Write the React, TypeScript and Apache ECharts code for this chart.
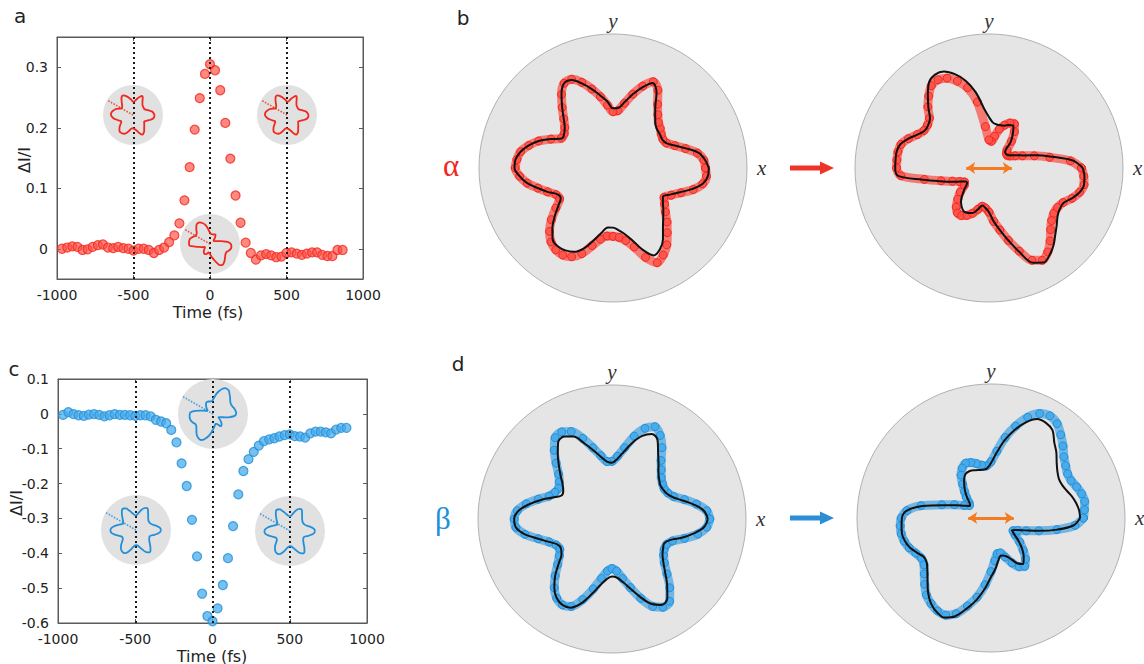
import React, { useEffect, useRef } from 'react';
import * as echarts from 'echarts';

// ---------- time-resolved data (panels a, c) ----------
const TIMES = [-967, -933, -900, -867, -833, -800, -767, -733, -700, -667, -633, -600, -567, -533, -500,
  -467, -433, -400, -367, -333, -300, -267, -233, -200, -167, -133, -100, -67, -33, 0,
  33, 67, 100, 133, 167, 200, 233, 267, 300, 333, 367, 400, 433, 467, 500, 533, 567, 600, 633,
  667, 700, 733, 767, 800, 833, 867];
const DI_ALPHA = [0.000, 0.002, 0.004, 0.003, -0.002, -0.001, 0.003, 0.006, 0.007, 0.002, 0.001, 0.003,
  0.001, 0.000, -0.003, 0.000, 0.000, -0.002, -0.007, -0.002, 0.002, 0.011, 0.022, 0.042, 0.080, 0.135,
  0.197, 0.249, 0.289, 0.305,
  0.295, 0.262, 0.208, 0.149, 0.088, 0.043, 0.010, -0.007, -0.018, -0.011, -0.009, -0.011, -0.014,
  -0.013, -0.007, -0.006, -0.008, -0.010, -0.008, -0.006, -0.006, -0.010, -0.012, -0.012, -0.002, -0.002];
const DI_BETA = [-0.003, 0.005, -0.001, -0.004, -0.006, -0.002, -0.001, -0.003, -0.007, -0.004, -0.001,
  -0.003, -0.003, -0.004, -0.006, -0.004, -0.004, -0.007, -0.017, -0.022, -0.027, -0.046, -0.082, -0.142,
  -0.207, -0.304, -0.409, -0.516, -0.580, -0.595,
  -0.558, -0.491, -0.414, -0.322, -0.231, -0.164, -0.130, -0.109, -0.091, -0.078, -0.073, -0.070, -0.065,
  -0.061, -0.059, -0.064, -0.065, -0.068, -0.056, -0.051, -0.051, -0.053, -0.056, -0.045, -0.040, -0.040];
const X_TICKS = [-1000, -500, 0, 500, 1000];
const A_Y_TICKS = [0, 0.1, 0.2, 0.3];
const C_Y_TICKS = [0.1, 0, -0.1, -0.2, -0.3, -0.4, -0.5, -0.6];
const MARKER_TIMES = [-500, 0, 500];

// ---------- polar patterns (radius vs angle in degrees) ----------
const ANGLES = [0, 5, 10, 15, 20, 25, 30, 35, 40, 45, 50, 55,
  60, 65, 70, 75, 80, 85, 90, 95, 100, 105, 110, 115,
  120, 125, 130, 135, 140, 145, 150, 155, 160, 165, 170, 175,
  180, 185, 190, 195, 200, 205, 210, 215, 220, 225, 230, 235,
  240, 245, 250, 255, 260, 265, 270, 275, 280, 285, 290, 295,
  300, 305, 310, 315, 320, 325, 330, 335, 340, 345, 350, 355];

const ALPHA_BEFORE_FIT = [0.715, 0.69, 0.65, 0.565, 0.49, 0.44, 0.425, 0.43, 0.435, 0.45, 0.49, 0.55,
  0.65, 0.70, 0.64, 0.57, 0.50, 0.45, 0.445, 0.50, 0.55, 0.61, 0.67, 0.725,
  0.73, 0.67, 0.59, 0.52, 0.47, 0.445, 0.44, 0.51, 0.59, 0.65, 0.70, 0.73,
  0.735, 0.70, 0.65, 0.58, 0.52, 0.46, 0.45, 0.50, 0.57, 0.64, 0.70, 0.715,
  0.71, 0.69, 0.64, 0.56, 0.49, 0.445, 0.445, 0.465, 0.50, 0.56, 0.65, 0.72,
  0.70, 0.65, 0.58, 0.53, 0.49, 0.455, 0.43, 0.47, 0.53, 0.61, 0.68, 0.71];
const ALPHA_BEFORE_DATA = [0.69, 0.68, 0.64, 0.56, 0.49, 0.44, 0.43, 0.44, 0.46, 0.48, 0.52, 0.58,
  0.67, 0.71, 0.65, 0.57, 0.49, 0.43, 0.42, 0.47, 0.54, 0.61, 0.68, 0.73,
  0.73, 0.67, 0.59, 0.52, 0.47, 0.445, 0.445, 0.51, 0.59, 0.65, 0.70, 0.72,
  0.73, 0.70, 0.65, 0.58, 0.52, 0.47, 0.46, 0.52, 0.60, 0.67, 0.72, 0.745,
  0.75, 0.73, 0.68, 0.60, 0.54, 0.51, 0.51, 0.52, 0.55, 0.61, 0.71, 0.78,
  0.75, 0.70, 0.63, 0.57, 0.51, 0.47, 0.44, 0.48, 0.54, 0.62, 0.68, 0.70];
const ALPHA_AFTER_FIT = [0.70, 0.63, 0.48, 0.37, 0.275, 0.225, 0.19, 0.17, 0.165, 0.17, 0.25, 0.31,
  0.365, 0.355, 0.336, 0.33, 0.33, 0.34, 0.38, 0.45, 0.575, 0.675, 0.745, 0.795,
  0.805, 0.78, 0.71, 0.64, 0.575, 0.555, 0.555, 0.59, 0.64, 0.685, 0.70, 0.70,
  0.70, 0.68, 0.50, 0.38, 0.30, 0.24, 0.20, 0.20, 0.235, 0.28, 0.325, 0.355,
  0.375, 0.37, 0.357, 0.32, 0.285, 0.30, 0.33, 0.40, 0.47, 0.56, 0.67, 0.78,
  0.815, 0.79, 0.75, 0.70, 0.66, 0.625, 0.61, 0.615, 0.66, 0.70, 0.72, 0.715];
const ALPHA_AFTER_DATA = [0.69, 0.61, 0.46, 0.35, 0.265, 0.215, 0.18, 0.165, 0.17, 0.19, 0.26, 0.33,
  0.38, 0.37, 0.34, 0.30, 0.24, 0.20, 0.21, 0.31, 0.50, 0.62, 0.69, 0.74,
  0.76, 0.75, 0.70, 0.645, 0.58, 0.56, 0.56, 0.59, 0.64, 0.68, 0.69, 0.69,
  0.69, 0.66, 0.49, 0.37, 0.29, 0.24, 0.21, 0.225, 0.28, 0.33, 0.38, 0.41,
  0.41, 0.39, 0.36, 0.32, 0.29, 0.30, 0.33, 0.40, 0.47, 0.56, 0.66, 0.76,
  0.795, 0.765, 0.71, 0.65, 0.61, 0.59, 0.59, 0.61, 0.66, 0.70, 0.72, 0.71];
const BETA_BEFORE_FIT = [0.715, 0.69, 0.62, 0.54, 0.48, 0.45, 0.44, 0.44, 0.46, 0.49, 0.54, 0.60,
  0.68, 0.70, 0.66, 0.59, 0.51, 0.45, 0.42, 0.43, 0.47, 0.53, 0.60, 0.68,
  0.71, 0.70, 0.63, 0.56, 0.50, 0.45, 0.42, 0.415, 0.47, 0.55, 0.63, 0.70,
  0.73, 0.72, 0.66, 0.57, 0.50, 0.45, 0.44, 0.46, 0.52, 0.60, 0.67, 0.72,
  0.74, 0.73, 0.67, 0.58, 0.50, 0.45, 0.43, 0.44, 0.48, 0.54, 0.62, 0.70,
  0.74, 0.72, 0.64, 0.56, 0.50, 0.46, 0.44, 0.43, 0.46, 0.54, 0.62, 0.69];
const BETA_BEFORE_DATA = [0.73, 0.71, 0.64, 0.56, 0.49, 0.46, 0.45, 0.46, 0.48, 0.52, 0.57, 0.65,
  0.72, 0.76, 0.72, 0.64, 0.54, 0.47, 0.43, 0.43, 0.48, 0.55, 0.64, 0.72,
  0.75, 0.74, 0.67, 0.59, 0.52, 0.48, 0.46, 0.47, 0.50, 0.57, 0.65, 0.71,
  0.73, 0.72, 0.66, 0.57, 0.50, 0.46, 0.45, 0.48, 0.53, 0.60, 0.67, 0.72,
  0.74, 0.72, 0.64, 0.54, 0.45, 0.39, 0.37, 0.39, 0.45, 0.53, 0.63, 0.72,
  0.76, 0.75, 0.67, 0.58, 0.51, 0.47, 0.45, 0.45, 0.48, 0.56, 0.65, 0.71];
const BETA_AFTER_FIT = [0.665, 0.66, 0.645, 0.625, 0.60, 0.585, 0.585, 0.605, 0.64, 0.69, 0.735, 0.80,
  0.82, 0.815, 0.76, 0.68, 0.59, 0.49, 0.41, 0.37, 0.365, 0.37, 0.38, 0.385,
  0.38, 0.35, 0.31, 0.27, 0.23, 0.195, 0.18, 0.215, 0.28, 0.37, 0.52, 0.63,
  0.665, 0.67, 0.675, 0.665, 0.645, 0.61, 0.58, 0.585, 0.62, 0.67, 0.73, 0.78,
  0.81, 0.82, 0.78, 0.70, 0.62, 0.53, 0.44, 0.38, 0.32, 0.29, 0.30, 0.33,
  0.39, 0.42, 0.38, 0.33, 0.27, 0.21, 0.18, 0.21, 0.27, 0.37, 0.50, 0.62];
const BETA_AFTER_DATA = [0.69, 0.70, 0.71, 0.70, 0.68, 0.66, 0.66, 0.68, 0.71, 0.76, 0.81, 0.86,
  0.88, 0.86, 0.80, 0.71, 0.61, 0.50, 0.42, 0.39, 0.40, 0.42, 0.44, 0.45,
  0.43, 0.39, 0.33, 0.28, 0.24, 0.20, 0.185, 0.22, 0.29, 0.38, 0.53, 0.63,
  0.67, 0.68, 0.68, 0.67, 0.65, 0.62, 0.60, 0.61, 0.65, 0.70, 0.75, 0.78,
  0.80, 0.80, 0.76, 0.68, 0.60, 0.50, 0.40, 0.32, 0.27, 0.27, 0.31, 0.37,
  0.42, 0.44, 0.40, 0.34, 0.28, 0.22, 0.19, 0.22, 0.28, 0.37, 0.50, 0.63];

const POL_ANGLE = 150; // excitation polarization drawn in the insets
const PUMP_HALF = 0.17; // half length of the orange pump arrow (radius units)

// ---------- styling ----------
const SANS = 'DejaVu Sans';
const SERIF = 'Liberation Serif';
const RED = '#f0281e';
const RED_FILL = 'rgba(255,80,70,0.85)';
const RED_BAND = 'rgba(255,50,40,0.6)';
const BLUE = '#2290d8';
const BLUE_FILL = 'rgba(70,170,235,0.92)';
const BLUE_BAND = 'rgba(40,150,225,0.6)';
const ORANGE = '#f47b20';
const AXIS = '#5a5a5a';

function loop(radii: number[]) {
  const pts = radii.map((r, i) => [r, ANGLES[i]]);
  pts.push([radii[0], 360]);
  return pts;
}

const BIG = [
  { center: [613, 168], data: ALPHA_BEFORE_DATA, fit: ALPHA_BEFORE_FIT, color: RED, fill: RED_FILL, band: RED_BAND, pump: false },
  { center: [989, 168], data: ALPHA_AFTER_DATA, fit: ALPHA_AFTER_FIT, color: RED, fill: RED_FILL, band: RED_BAND, pump: true },
  { center: [612, 519], data: BETA_BEFORE_DATA, fit: BETA_BEFORE_FIT, color: BLUE, fill: BLUE_FILL, band: BLUE_BAND, pump: false },
  { center: [991, 518], data: BETA_AFTER_DATA, fit: BETA_AFTER_FIT, color: BLUE, fill: BLUE_FILL, band: BLUE_BAND, pump: true },
];
const BIG_R = 134;

const INSETS = [
  { center: [133, 115], r: 30, shape: ALPHA_BEFORE_FIT, color: RED },
  { center: [287, 115], r: 30, shape: ALPHA_BEFORE_FIT, color: RED },
  { center: [210, 244], r: 30, shape: ALPHA_AFTER_FIT, color: RED },
  { center: [136, 530], r: 35, shape: BETA_BEFORE_FIT, color: BLUE },
  { center: [290, 531], r: 35, shape: BETA_BEFORE_FIT, color: BLUE },
  { center: [213, 414], r: 35, shape: BETA_AFTER_FIT, color: BLUE },
];

function fmt(v: number) {
  if (Math.abs(v) < 1e-9) return '0';
  return (Math.round(v * 10) / 10).toFixed(1);
}

function buildOption(): any {
  const polar: any[] = [];
  const angleAxis: any[] = [];
  const radiusAxis: any[] = [];
  const series: any[] = [];

  // cartesian panels
  const grids = [
    { left: 57, top: 37, width: 306, height: 242, show: true, borderColor: AXIS, borderWidth: 1 },
    { left: 58, top: 379, width: 309, height: 244, show: true, borderColor: AXIS, borderWidth: 1 },
  ];
  const xAxis: any[] = [];
  const yAxis: any[] = [];
  const yDefs = [
    { min: -0.05, max: 0.35, ticks: A_Y_TICKS },
    { min: -0.6, max: 0.1, ticks: C_Y_TICKS },
  ];
  [0, 1].forEach((g) => {
    ['bottom', 'top'].forEach((pos) => {
      xAxis.push({
        gridIndex: g, type: 'value', position: pos, min: -1000, max: 1000, interval: 500,
        axisLine: { show: true, onZero: false, lineStyle: { color: AXIS } },
        axisTick: { show: true, inside: true, length: 4, lineStyle: { color: AXIS }, customValues: X_TICKS },
        axisLabel: pos === 'bottom'
          ? { show: true, margin: 9, fontSize: 14, fontFamily: SANS, color: '#222', customValues: X_TICKS, formatter: (v: number) => String(Math.round(v)) }
          : { show: false },
        splitLine: { show: false },
      });
    });
    ['left', 'right'].forEach((pos) => {
      yAxis.push({
        gridIndex: g, type: 'value', position: pos, min: yDefs[g].min, max: yDefs[g].max,
        axisLine: { show: true, onZero: false, lineStyle: { color: AXIS } },
        axisTick: { show: true, inside: true, length: 4, lineStyle: { color: AXIS }, customValues: yDefs[g].ticks },
        axisLabel: pos === 'left'
          ? { show: true, margin: 9, fontSize: 14, fontFamily: SANS, color: '#222', customValues: yDefs[g].ticks, formatter: fmt }
          : { show: false },
        splitLine: { show: false },
      });
    });
  });

  const markers = {
    silent: true, symbol: 'none', label: { show: false },
    lineStyle: { color: '#1a1a1a', type: [2, 3], width: 2 },
    data: MARKER_TIMES.map((t) => ({ xAxis: t })),
  };
  series.push({
    type: 'scatter', xAxisIndex: 0, yAxisIndex: 0, z: 2,
    data: TIMES.map((t, i) => [t, DI_ALPHA[i]]),
    symbolSize: 9,
    itemStyle: { color: RED_FILL, borderColor: RED, borderWidth: 1.2 },
    markLine: markers,
  });
  series.push({
    type: 'scatter', xAxisIndex: 2, yAxisIndex: 2, z: 2,
    data: TIMES.map((t, i) => [t, DI_BETA[i]]),
    symbolSize: 9,
    itemStyle: { color: BLUE_FILL, borderColor: BLUE, borderWidth: 1.2 },
    markLine: markers,
  });

  // big polar plots
  BIG.forEach((b, i) => {
    polar.push({ center: b.center, radius: BIG_R });
    angleAxis.push({
      polarIndex: i, type: 'value', min: 0, max: 360, interval: 90, startAngle: 0, clockwise: false, z: 0,
      axisLine: { show: true, lineStyle: { color: '#b0b0b0', width: 1 } },
      axisTick: { show: false },
      axisLabel: {
        show: true, margin: 3,
        formatter: (v: number) => (v === 0 ? '{x|x}' : v === 90 ? '{y|y}' : ''),
        rich: {
          x: { fontFamily: SERIF, fontStyle: 'italic', fontSize: 21, color: '#333', padding: [0, 0, 0, 7] },
          y: { fontFamily: SERIF, fontStyle: 'italic', fontSize: 21, color: '#333' },
        },
      },
      splitLine: { show: true, lineStyle: { color: '#a3a3a3', type: [5, 4], width: 1 } },
      splitArea: { show: true, areaStyle: { color: ['#e5e5e5'] } },
    });
    radiusAxis.push({
      polarIndex: i, type: 'value', min: 0, max: 1,
      axisLine: { show: false }, axisTick: { show: false }, axisLabel: { show: false }, splitLine: { show: false },
    });
    series.push({
      type: 'line', coordinateSystem: 'polar', polarIndex: i, smooth: 0.3, z: 3,
      data: loop(b.data),
      symbol: 'circle', symbolSize: 8, showSymbol: true,
      itemStyle: { color: b.fill, borderColor: b.color, borderWidth: 1 },
      lineStyle: { color: b.band, width: 9 },
    });
    const fitSeries: any = {
      type: 'line', coordinateSystem: 'polar', polarIndex: i, smooth: 0.35, z: 4,
      data: loop(b.fit), symbol: 'none',
      lineStyle: { color: '#111', width: 2 },
    };
    if (b.pump) {
      fitSeries.markLine = {
        silent: true, symbol: ['arrow', 'arrow'], symbolSize: [9, 9], label: { show: false },
        lineStyle: { color: ORANGE, width: 3, type: 'solid' },
        data: [[{ coord: [PUMP_HALF, 180] }, { coord: [PUMP_HALF, 0] }]],
      };
    }
    series.push(fitSeries);
  });

  // insets
  INSETS.forEach((ins, k) => {
    const idx = BIG.length + k;
    polar.push({ center: ins.center, radius: ins.r });
    angleAxis.push({
      polarIndex: idx, type: 'value', min: 0, max: 360, interval: 90, startAngle: 0, clockwise: false, z: 5,
      axisLine: { show: false }, axisTick: { show: false }, axisLabel: { show: false },
      splitLine: { show: true, lineStyle: { color: '#cdcdcd', width: 0.8 } },
      splitArea: { show: true, areaStyle: { color: ['#e1e1e1'] } },
    });
    radiusAxis.push({
      polarIndex: idx, type: 'value', min: 0, max: 1, z: 5,
      axisLine: { show: false }, axisTick: { show: false }, axisLabel: { show: false }, splitLine: { show: false },
    });
    series.push({
      type: 'line', coordinateSystem: 'polar', polarIndex: idx, smooth: 0.35, z: 6,
      data: loop(ins.shape), symbol: 'none',
      lineStyle: { color: ins.color, width: 1.8 },
    });
    series.push({
      type: 'line', coordinateSystem: 'polar', polarIndex: idx, z: 6,
      data: [[0, POL_ANGLE], [1, POL_ANGLE]], symbol: 'none',
      lineStyle: { color: ins.color, width: 1.5, type: [1.5, 1.5], opacity: 0.8 },
    });
  });

  const txt = (text: string, x: number, y: number, extra: any = {}, rot = 0) => ({
    type: 'text', x, y, rotation: rot, z: 10,
    style: { text, align: 'center', verticalAlign: 'middle', fill: '#222', fontFamily: SANS, fontSize: 14, ...extra },
  });
  const arrow = (y: number, color: string) => ({
    type: 'group', z: 10,
    children: [
      { type: 'rect', shape: { x: 790, y: y - 2.5, width: 32, height: 5 }, style: { fill: color } },
      { type: 'polygon', shape: { points: [[820, y - 6.5], [834, y], [820, y + 6.5]] }, style: { fill: color } },
    ],
  });

  const graphic = [
    txt('a', 20, 16, { fontSize: 20 }),
    txt('b', 463, 18, { fontSize: 20 }),
    txt('c', 14, 369, { fontSize: 20 }),
    txt('d', 458, 364, { fontSize: 20 }),
    txt('ΔI/I', 24, 160, { fontSize: 16 }, Math.PI / 2),
    txt('ΔI/I', 16, 503, { fontSize: 16 }, Math.PI / 2),
    txt('Time (fs)', 208, 312, { fontSize: 16 }),
    txt('Time (fs)', 212, 656, { fontSize: 16 }),
    txt('α', 451, 165, { fontSize: 31, fontFamily: SERIF, fill: RED }),
    txt('β', 443, 518, { fontSize: 31, fontFamily: SERIF, fill: BLUE }),
    arrow(168, '#ee3329'),
    arrow(518, '#2a8fd4'),
  ];

  return {
    animation: false,
    backgroundColor: '#ffffff',
    textStyle: { fontFamily: SANS },
    grid: grids,
    xAxis, yAxis, polar, angleAxis, radiusAxis, series, graphic,
  };
}

export default function App() {
  const ref = useRef<HTMLDivElement>(null);
  useEffect(() => {
    if (!ref.current) return;
    const chart = echarts.init(ref.current, null, { renderer: 'svg' });
    chart.setOption(buildOption());
    return () => chart.dispose();
  }, []);
  return (
    <div
      ref={ref}
      style={{ position: 'fixed', left: 0, top: 0, width: 1144, height: 664, background: '#fff' }}
    />
  );
}
